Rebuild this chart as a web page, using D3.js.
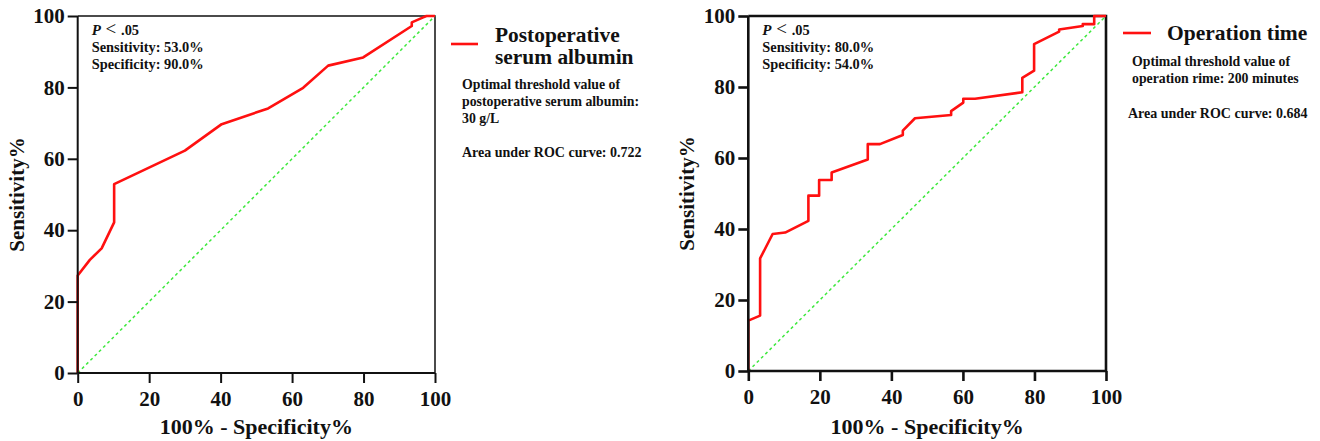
<!DOCTYPE html>
<html><head><meta charset="utf-8">
<script src="https://cdn.jsdelivr.net/npm/d3@7"></script>
<style>body{margin:0;background:#fff}svg{display:block}text{font-family:"Liberation Serif","Times New Roman",serif;font-weight:bold;fill:#111}</style>
</head><body><svg id="c" width="1320" height="441"></svg>
<script>
const xTicks = [0, 20, 40, 60, 80, 100];
const yTicks = [0, 20, 40, 60, 80, 100];
const albuminFpr = [0, 0, 3.4, 6.7, 10.2, 10.2, 30, 40.3, 53.3, 63.1, 70.1, 79.9, 93.5, 93.5, 96.7, 97.6, 100];
const albuminTpr = [0, 27.3, 31.7, 34.9, 42.2, 52.9, 62.3, 69.7, 74.1, 79.9, 86.1, 88.4, 97.2, 98.2, 99.6, 100, 100];
const opFpr = [0, 0, 3.3, 3.3, 6.8, 10.3, 16.8, 16.8, 19.8, 19.8, 23.3, 23.3, 33.4, 33.4, 36.8, 43.2, 43.2, 46.6, 56.7, 56.7, 60.1, 60.1, 63.4, 76.6, 76.6, 79.9, 79.9, 86.9, 86.9, 93.5, 93.5, 96.7, 96.7, 100];
const opTpr = [0, 14.2, 15.6, 31.7, 38.6, 39.0, 42.3, 49.4, 49.4, 53.8, 53.8, 55.9, 59.6, 63.9, 63.9, 66.5, 67.7, 71.2, 72.1, 73.2, 75.6, 76.7, 76.7, 78.5, 82.6, 84.6, 92.1, 95.6, 96.2, 97.2, 97.7, 97.7, 100, 100];
const statsLeft = ["Sensitivity: 53.0%", "Specificity: 90.0%"];
const statsRight = ["Sensitivity: 80.0%", "Specificity: 54.0%"];

const svg = d3.select("#c");

function panel(o) {
  const x = d3.scaleLinear().domain([0, 100]).range([o.x0, o.x1]);
  const y = d3.scaleLinear().domain([0, 100]).range([o.y0, o.y1]);
  const g = svg.append("g");
  g.append("path").attr("d", `M${o.x0},${o.y1}H${o.x1}V${o.y0}`).attr("fill", "none")
    .attr("stroke", "#111").attr("stroke-width", o.frameW);
  g.append("line").attr("x1", x(0)).attr("y1", y(0)).attr("x2", x(100)).attr("y2", y(100))
    .attr("stroke", "#3ee83e").attr("stroke-width", 1.5).attr("stroke-dasharray", "3,3");
  const pts = o.fx.map((v, i) => [v, o.fy[i]]);
  g.append("path").datum(pts).attr("fill", "none").attr("stroke", "#ff1010").attr("stroke-width", 2.6)
    .attr("stroke-linejoin", "round")
    .attr("d", d3.line().x(d => x(d[0])).y(d => y(d[1])));
  const ax = g.append("g").attr("transform", `translate(0,${o.y0})`)
    .call(d3.axisBottom(x).tickValues(xTicks).tickSize(10).tickSizeOuter(0).tickPadding(8));
  const ay = g.append("g").attr("transform", `translate(${o.x0},0)`)
    .call(d3.axisLeft(y).tickValues(yTicks).tickSize(10).tickSizeOuter(0).tickPadding(3));
  [ax, ay].forEach(a => {
    a.attr("font-family", "Liberation Serif").attr("font-weight", "bold").attr("font-size", 21);
    a.selectAll("path").attr("stroke", "#111").attr("stroke-width", o.axisW);
    a.selectAll("line").attr("stroke", "#111").attr("stroke-width", o.axisW);
    a.selectAll("text").attr("font-size", 21).attr("fill", "#111");
  });
  ax.select(".domain").attr("d", `M${o.x0},0H${o.x1}`);
  ay.select(".domain").attr("d", `M0,${o.y0}V${o.y1}`);
  g.append("text").attr("x", (o.x0 + o.x1) / 2).attr("y", 434).attr("text-anchor", "middle")
    .attr("font-size", 22).text("100% - Specificity%");
  g.append("text").attr("transform", `translate(${o.x0 - 54},${(o.y0 + o.y1) / 2}) rotate(-90)`)
    .attr("text-anchor", "middle").attr("font-size", 21).text("Sensitivity%");
  const st = g.append("text").attr("x", o.x0 + 14).attr("y", 35).attr("font-size", 14.4);
  st.append("tspan").attr("font-style", "italic").attr("font-size", 15).text("P");
  st.append("tspan").attr("font-size", 19).attr("font-weight", "normal").text(" < ");
  st.append("tspan").text(".05");
  o.stats.forEach((s, i) => g.append("text").attr("x", o.x0 + 14).attr("y", 52 + i * 16.5).attr("font-size", 14.4).text(s));
  return g;
}

panel({x0: 77.7, x1: 435, y0: 373, y1: 16, fx: albuminFpr, fy: albuminTpr, stats: statsLeft, frameW: 1.5, axisW: 2});
panel({x0: 748.3, x1: 1106, y0: 371, y1: 16, fx: opFpr, fy: opTpr, stats: statsRight, frameW: 2.6, axisW: 2.6});

svg.append("line").attr("x1", 451).attr("x2", 478).attr("y1", 44).attr("y2", 44).attr("stroke", "#ff1010").attr("stroke-width", 2.6);
svg.append("text").attr("x", 495).attr("y", 42).attr("font-size", 21.4).text("Postoperative");
svg.append("text").attr("x", 495).attr("y", 64).attr("font-size", 21.4).text("serum albumin");
["Optimal threshold value of", "postoperative serum albumin:", "30 g/L"].forEach((s, i) =>
  svg.append("text").attr("x", 462).attr("y", 89 + i * 17).attr("font-size", 13.8).text(s));
svg.append("text").attr("x", 462).attr("y", 157).attr("font-size", 14).text("Area under ROC curve: 0.722");

svg.append("line").attr("x1", 1123).attr("x2", 1151).attr("y1", 33).attr("y2", 33).attr("stroke", "#ff1010").attr("stroke-width", 2.6);
svg.append("text").attr("x", 1167).attr("y", 40).attr("font-size", 21.5).text("Operation time");
["Optimal threshold value of", "operation rime: 200 minutes"].forEach((s, i) =>
  svg.append("text").attr("x", 1132).attr("y", 66 + i * 17).attr("font-size", 13.8).text(s));
svg.append("text").attr("x", 1128).attr("y", 118).attr("font-size", 14).text("Area under ROC curve: 0.684");
</script></body></html>
